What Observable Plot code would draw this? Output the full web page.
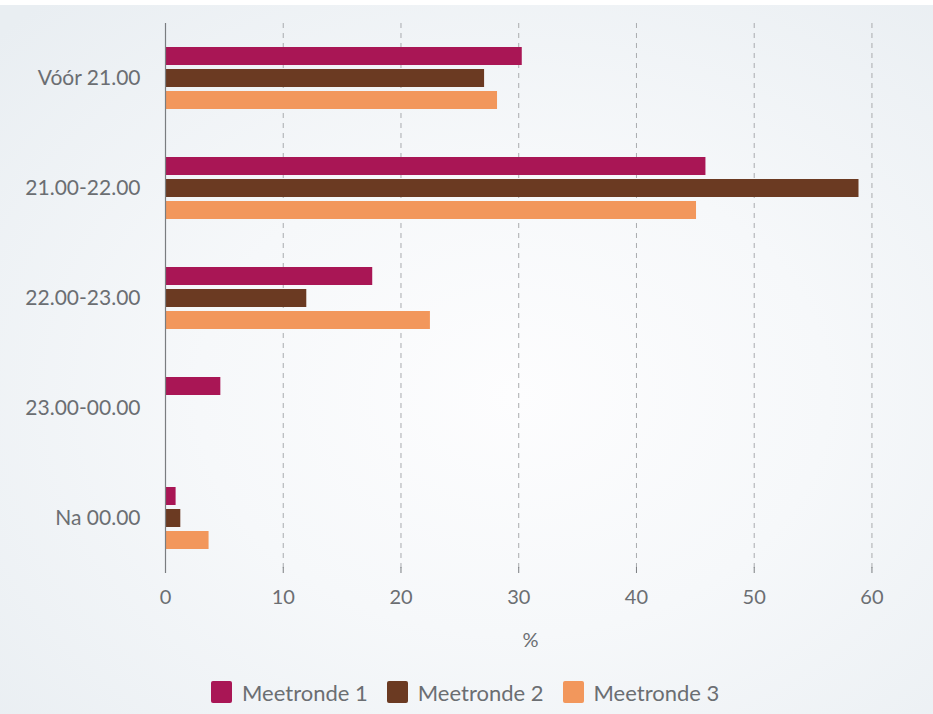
<!DOCTYPE html>
<html><head><meta charset="utf-8">
<script src="https://cdn.jsdelivr.net/npm/d3@7"></script>
<script src="https://cdn.jsdelivr.net/npm/@observablehq/plot@0.6"></script>
<style>
html,body{margin:0;padding:0;background:#fff;}
#wrap{position:absolute;left:0;top:5px;width:933px;height:709px;
 background:radial-gradient(ellipse 75% 75% at 55% 55%, #fdfdfe 0%, #f6f8fa 45%, #e9eef2 100%);
 font-family:Lato,sans-serif;}
#legend{position:absolute;left:211px;top:676px;display:flex;gap:19px;color:#6b6e72;font-size:22px;}
#legend .it{display:flex;align-items:center;height:22px;}
#legend .sw{width:21px;height:22px;border-radius:2px;margin-right:10px;display:inline-block;}
</style></head>
<body><div id="wrap"><div id="chart"></div><div id="legend"></div></div>
<script>
const categories = ["Vóór 21.00","21.00-22.00","22.00-23.00","23.00-00.00","Na 00.00"];
const series = ["Meetronde 1","Meetronde 2","Meetronde 3"];
const meetronde1 = [30.3,45.9,17.6,4.7,0.9];
const meetronde2 = [27.1,58.9,12.0,0,1.3];
const meetronde3 = [28.2,45.1,22.5,0,3.7];
const xTicks = [0,10,20,30,40,50,60];
const colors = ["#a91655","#6b3a22","#f2975c"];

const values = [meetronde1, meetronde2, meetronde3];
const data = [];
categories.forEach((c,i)=>series.forEach((s,j)=>data.push({category:c, series:s, value:values[j][i]})));

const plot = Plot.plot({
  width:933, height:648,
  marginTop:18, marginLeft:165, marginRight:38, marginBottom:80,
  style:{background:"transparent", fontFamily:"Lato, sans-serif", fontSize:"20px", color:"#6b6e72", overflow:"visible"},
  x:{domain:[0,62], ticks:xTicks, label:null},
  y:{domain:series, paddingInner:0.18, paddingOuter:1.09, axis:null},
  fy:{domain:categories, padding:0, label:null, axis:null},
  color:{domain:series, range:colors},
  marks:[
    Plot.gridX(xTicks.filter(d=>d>0), {stroke:"#a9abae", strokeOpacity:1, strokeDasharray:"5,5"}),
    Plot.barX(data, {x:"value", y:"series", fy:"category", fill:"series"}),
    Plot.ruleX([0], {stroke:"#7a7d80", strokeWidth:1.2}),
    Plot.ruleX(xTicks, {fy:()=>categories[categories.length-1], insetTop:104, stroke:"#7a7d80"}),
    Plot.axisFy({anchor:"left", tickSize:0, tickPadding:25, label:null, fontSize:21, color:"#6b6e72"}),
    Plot.axisX({anchor:"bottom", ticks:xTicks, tickSize:0, tickPadding:16, line:true, stroke:"#7a7d80", label:"%", labelAnchor:"center", labelArrow:"none", labelOffset:73, fontSize:20, color:"#6b6e72"})
  ]
});
document.getElementById("chart").appendChild(plot);

const lg = document.getElementById("legend");
series.forEach((s,i)=>{
  const it=document.createElement("div"); it.className="it";
  const sw=document.createElement("span"); sw.className="sw"; sw.style.background=colors[i];
  it.appendChild(sw); it.appendChild(document.createTextNode(s)); lg.appendChild(it);
});
</script></body></html>
